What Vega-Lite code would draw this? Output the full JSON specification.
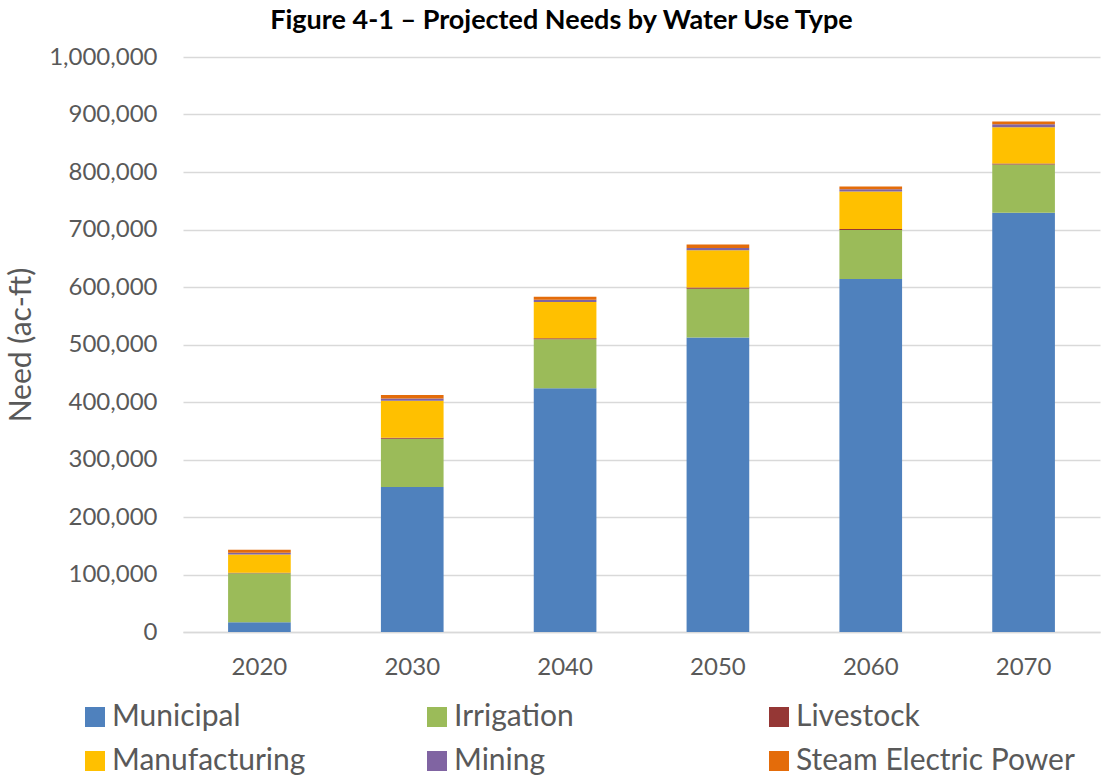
{
  "$schema": "https://vega.github.io/schema/vega-lite/v6.json",
  "autosize": {"type": "none"},
  "width": 917,
  "height": 575,
  "padding": {"left": 183, "top": 57, "right": 12, "bottom": 146},
  "background": "white",
  "config": {"font": "Lato", "view": {"stroke": null}},
  "title": {
    "text": "Figure 4-1 – Projected Needs by Water Use Type",
    "fontSize": 27,
    "fontWeight": "bold",
    "font": "Lato",
    "color": "#000000",
    "anchor": "middle",
    "dx": -80,
    "offset": 10
  },
  "data": {
    "values": [
      {"year": "2020", "type": "Municipal", "need": 17000},
      {"year": "2020", "type": "Irrigation", "need": 85000},
      {"year": "2020", "type": "Livestock", "need": 1000},
      {"year": "2020", "type": "Manufacturing", "need": 32000},
      {"year": "2020", "type": "Mining", "need": 3000},
      {"year": "2020", "type": "Steam Electric Power", "need": 5000},
      {"year": "2030", "type": "Municipal", "need": 252000},
      {"year": "2030", "type": "Irrigation", "need": 84000},
      {"year": "2030", "type": "Livestock", "need": 2000},
      {"year": "2030", "type": "Manufacturing", "need": 64000},
      {"year": "2030", "type": "Mining", "need": 4000},
      {"year": "2030", "type": "Steam Electric Power", "need": 6000},
      {"year": "2040", "type": "Municipal", "need": 424000},
      {"year": "2040", "type": "Irrigation", "need": 85000},
      {"year": "2040", "type": "Livestock", "need": 2000},
      {"year": "2040", "type": "Manufacturing", "need": 63000},
      {"year": "2040", "type": "Mining", "need": 4000},
      {"year": "2040", "type": "Steam Electric Power", "need": 5000},
      {"year": "2050", "type": "Municipal", "need": 512000},
      {"year": "2050", "type": "Irrigation", "need": 85000},
      {"year": "2050", "type": "Livestock", "need": 2000},
      {"year": "2050", "type": "Manufacturing", "need": 65000},
      {"year": "2050", "type": "Mining", "need": 4000},
      {"year": "2050", "type": "Steam Electric Power", "need": 6000},
      {"year": "2060", "type": "Municipal", "need": 614000},
      {"year": "2060", "type": "Irrigation", "need": 85000},
      {"year": "2060", "type": "Livestock", "need": 2000},
      {"year": "2060", "type": "Manufacturing", "need": 65000},
      {"year": "2060", "type": "Mining", "need": 4000},
      {"year": "2060", "type": "Steam Electric Power", "need": 5000},
      {"year": "2070", "type": "Municipal", "need": 729000},
      {"year": "2070", "type": "Irrigation", "need": 84000},
      {"year": "2070", "type": "Livestock", "need": 2000},
      {"year": "2070", "type": "Manufacturing", "need": 63000},
      {"year": "2070", "type": "Mining", "need": 5000},
      {"year": "2070", "type": "Steam Electric Power", "need": 5000}
    ]
  },
  "transform": [
    {"calculate": "indexof(['Municipal','Irrigation','Livestock','Manufacturing','Mining','Steam Electric Power'], datum.type)", "as": "stackOrder"}
  ],
  "mark": {"type": "bar"},
  "encoding": {
    "x": {
      "field": "year",
      "type": "nominal",
      "scale": {"paddingInner": 0.59, "paddingOuter": 0.295},
      "axis": {
        "title": null,
        "labelAngle": 0,
        "labelFontSize": 24,
        "labelColor": "#595959",
        "labelPadding": 23,
        "ticks": false,
        "domainColor": "#D9D9D9",
        "domainWidth": 1.5,
        "grid": false
      }
    },
    "y": {
      "field": "need",
      "type": "quantitative",
      "stack": "zero",
      "scale": {"domain": [0, 1000000], "nice": false},
      "axis": {
        "title": "Need (ac-ft)",
        "titleFontSize": 30,
        "titleFontWeight": "normal",
        "titleColor": "#595959",
        "titlePadding": 12,
        "values": [0, 100000, 200000, 300000, 400000, 500000, 600000, 700000, 800000, 900000, 1000000],
        "format": ",.0f",
        "labelFontSize": 24,
        "labelColor": "#595959",
        "labelPadding": 26,
        "ticks": false,
        "domain": false,
        "gridColor": "#D9D9D9",
        "gridWidth": 1.5
      }
    },
    "color": {
      "field": "type",
      "type": "nominal",
      "scale": {
        "domain": ["Municipal", "Irrigation", "Livestock", "Manufacturing", "Mining", "Steam Electric Power"],
        "range": ["#4F81BD", "#9BBB59", "#953735", "#FFC000", "#8064A2", "#E46C0A"]
      },
      "legend": {
        "title": null,
        "orient": "none",
        "legendX": -103,
        "legendY": 645,
        "direction": "horizontal",
        "columns": 3,
        "gridAlign": "all",
        "columnPadding": 31,
        "rowPadding": 14,
        "symbolType": "square",
        "symbolSize": 400,
        "symbolStrokeWidth": 0,
        "labelFontSize": 30,
        "labelColor": "#595959",
        "labelOffset": 2,
        "labelLimit": 400
      }
    },
    "order": {"field": "stackOrder", "type": "quantitative"}
  }
}
